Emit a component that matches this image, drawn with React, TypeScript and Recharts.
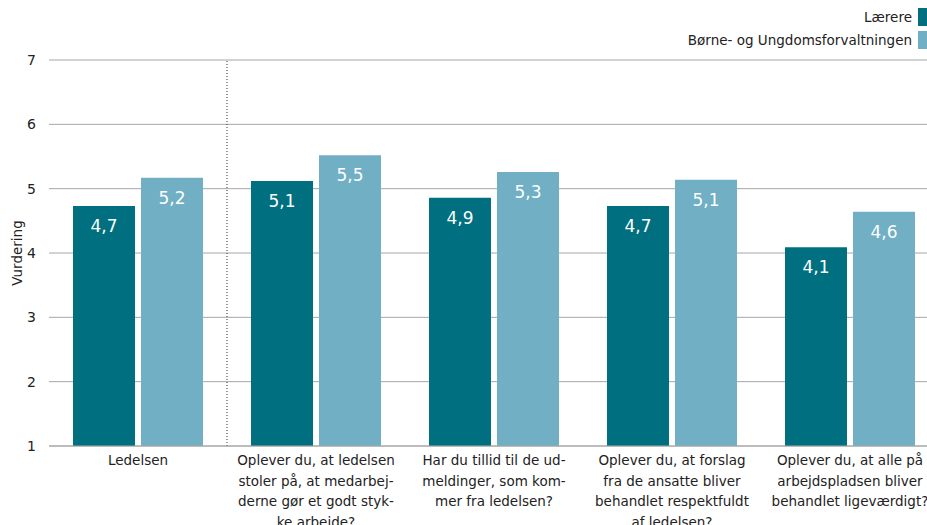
import { BarChart, Bar, XAxis, YAxis, CartesianGrid, LabelList, ReferenceLine } from "recharts";

const categories = [
  "Ledelsen",
  "Oplever du, at ledelsen\nstoler på, at medarbej-\nderne gør et godt styk-\nke arbejde?",
  "Har du tillid til de ud-\nmeldinger, som kom-\nmer fra ledelsen?",
  "Oplever du, at forslag\nfra de ansatte bliver\nbehandlet respektfuldt\naf ledelsen?",
  "Oplever du, at alle på\narbejdspladsen bliver\nbehandlet ligeværdigt?",
];
const laerere = [4.73, 5.12, 4.86, 4.73, 4.09];
const buf = [5.17, 5.52, 5.26, 5.14, 4.64];
const yTicks = [1, 2, 3, 4, 5, 6, 7];
const seriesNames = ["Lærere", "Børne- og Ungdomsforvaltningen"];

const DARK = "#007080";
const LIGHT = "#70afc4";
const TEXT = "#222222";
const FONT = "'DejaVu Sans', Verdana, sans-serif";

const data = categories.map((c, i) => ({ name: c, laerere: laerere[i], buf: buf[i] }));

const fmt = (v: any) => Number(v).toFixed(1).replace(".", ",");

const CategoryTick = ({ x, y, payload }: any) => {
  const lines = String(payload.value).split("\n");
  return (
    <text x={x} y={y} textAnchor="middle" fill={TEXT} fontSize={13.5} fontFamily={FONT}>
      {lines.map((l, i) => (
        <tspan key={i} x={x} dy={i === 0 ? 11 : 20.6}>
          {l}
        </tspan>
      ))}
    </text>
  );
};

const LegendBox = () => (
  <div style={{ position: "absolute", right: -2, top: 5, fontFamily: FONT, fontSize: 13.5, color: TEXT }}>
    {seriesNames.map((label, i) => (
      <div key={label} style={{ display: "flex", alignItems: "center", justifyContent: "flex-end", height: 23 }}>
        <span style={{ marginRight: 6 }}>{label}</span>
        <span style={{ display: "inline-block", width: 11, height: 18, background: i === 0 ? DARK : LIGHT }} />
      </div>
    ))}
  </div>
);

export default function App() {
  return (
    <div style={{ position: "absolute", left: 0, top: 0, width: 927, height: 525, overflow: "hidden", background: "#fff" }}>
      <BarChart
        width={940}
        height={525}
        data={data}
        margin={{ top: 60, right: 1, bottom: 0, left: 0 }}
        barCategoryGap={24}
        barGap={6}
      >
        <CartesianGrid vertical={false} stroke="#a6a6a6" />
        <XAxis
          dataKey="name"
          height={79}
          interval={0}
          tick={<CategoryTick />}
          tickLine={false}
          axisLine={{ stroke: "#a6a6a6" }}
        />
        <YAxis
          domain={[1, 7]}
          ticks={yTicks}
          width={49}
          axisLine={false}
          tickLine={false}
          tickMargin={7}
          tick={{ fill: TEXT, fontSize: 14, fontFamily: FONT }}
          label={{ value: "Vurdering", angle: -90, position: "insideLeft", offset: 17, style: { fill: TEXT, fontSize: 13.5, fontFamily: FONT, textAnchor: "middle" } }}
        />
        <ReferenceLine x={categories[0]} position="end" stroke="#333" strokeDasharray="1 2" />
        <Bar dataKey="laerere" name={seriesNames[0]} fill={DARK} barSize={62} isAnimationActive={false}>
          <LabelList dataKey="laerere" position="insideTop" offset={14} formatter={fmt} fill="#fff" fontSize={17} fontFamily={FONT} />
        </Bar>
        <Bar dataKey="buf" name={seriesNames[1]} fill={LIGHT} barSize={62} isAnimationActive={false}>
          <LabelList dataKey="buf" position="insideTop" offset={14} formatter={fmt} fill="#fff" fontSize={17} fontFamily={FONT} />
        </Bar>
      </BarChart>
      <LegendBox />
    </div>
  );
}
